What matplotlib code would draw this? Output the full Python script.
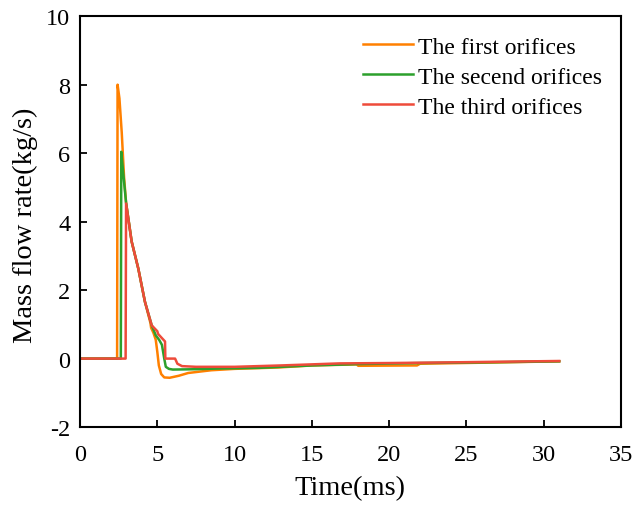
import matplotlib
matplotlib.use("Agg")
import matplotlib.pyplot as plt

plt.rcParams['font.family'] = ['Liberation Serif', 'DejaVu Serif']
plt.rcParams['axes.unicode_minus'] = False

# Time (ms) and mass flow rate (kg/s)
t_first = [0, 2.40, 2.43, 2.55, 2.70, 2.85, 2.98, 3.34, 3.77, 4.20, 4.55, 4.60, 4.75, 4.90,
           5.00, 5.10, 5.25, 5.45, 5.80, 6.40, 7.00, 8.50, 10.0, 12.8, 15.0, 17.9, 18.0,
           21.8, 22.0, 26.0, 31.0]
m_first = [0, 0, 8.00, 7.60, 6.60, 5.30, 4.55, 3.42, 2.63, 1.66, 1.05, 0.90, 0.75, 0.55,
           0.20, -0.20, -0.45, -0.55, -0.56, -0.50, -0.42, -0.34, -0.30, -0.26, -0.20, -0.17, -0.21,
           -0.20, -0.15, -0.12, -0.08]

t_second = [0, 2.64, 2.67, 2.80, 2.98, 3.34, 3.77, 4.20, 4.64, 4.90, 5.13, 5.30, 5.45,
            5.55, 5.75, 6.00, 7.50, 9.00, 11.6, 15.0, 18.0, 22.0, 26.0, 31.0]
m_second = [0, 0, 6.04, 5.40, 4.55, 3.42, 2.63, 1.66, 0.97, 0.68, 0.54, 0.40, 0.00,
            -0.24, -0.30, -0.32, -0.31, -0.29, -0.27, -0.20, -0.16, -0.13, -0.11, -0.08]

t_third = [0, 2.95, 2.98, 3.34, 3.77, 4.20, 4.64, 5.00, 5.05, 5.50, 5.52, 6.15, 6.30,
           6.60, 7.50, 10.0, 13.0, 16.8, 20.0, 24.0, 31.0]
m_third = [0, 0, 4.53, 3.42, 2.63, 1.66, 0.97, 0.80, 0.72, 0.50, 0.00, 0.00, -0.15,
           -0.22, -0.24, -0.24, -0.20, -0.14, -0.13, -0.11, -0.07]

labels = ['The first orifices', 'The secend orifices', 'The third orifices']
colors = ['#FF8000', '#2CA02C', '#EE4B3A']

x_ticks = [0, 5, 10, 15, 20, 25, 30, 35]
y_ticks = [-2, 0, 2, 4, 6, 8, 10]

fig = plt.figure(figsize=(6.35, 5.06), dpi=100)
ax = fig.add_axes([0.126, 0.154, 0.852, 0.812])

ax.plot(t_first, m_first, color=colors[0], lw=1.8, label=labels[0])
ax.plot(t_second, m_second, color=colors[1], lw=1.8, label=labels[1])
ax.plot(t_third, m_third, color=colors[2], lw=1.8, label=labels[2])

ax.set_xlim(0, 35)
ax.set_ylim(-2, 10)
ax.set_xticks(x_ticks)
ax.set_yticks(y_ticks)
ax.tick_params(direction='in', labelsize=17.5, length=5, width=1.3)
ax.tick_params(axis='x', pad=12)
ax.tick_params(axis='y', pad=7)
for s in ax.spines.values():
    s.set_linewidth(1.5)

ax.set_xlabel('Time(ms)', fontsize=20.5)
ax.set_ylabel('Mass flow rate(kg/s)', fontsize=20.5)
ax.xaxis.set_label_coords(0.499, -0.118)
ax.yaxis.set_label_coords(-0.077, 0.494)

leg = ax.legend(loc='upper left', frameon=False, fontsize=17, handlelength=2.1,
                handletextpad=0.25, labelspacing=0.36, borderpad=0, borderaxespad=0,
                bbox_to_anchor=(363 / 635, 1 - 37 / 506), bbox_transform=fig.transFigure)

fig.savefig('out.png', dpi=100)
